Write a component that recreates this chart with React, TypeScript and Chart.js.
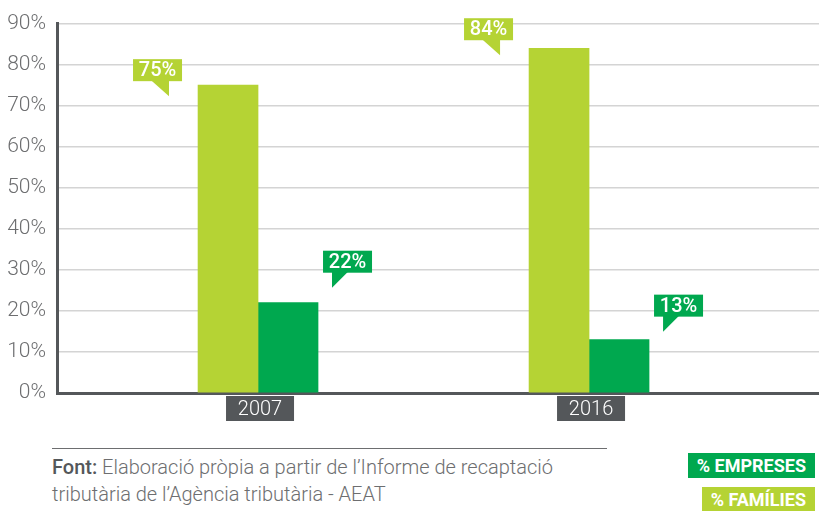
import React, { useEffect, useRef } from "react";
import { Chart, registerables } from "chart.js";

Chart.register(...registerables);

const categories = ["2007", "2016"];
const familiesValues = [75, 84];
const empresesValues = [22, 13];
const yTickValues = [0, 10, 20, 30, 40, 50, 60, 70, 80, 90];
const legendLabels = ["% EMPRESES", "% FAMÍLIES"];
const sourceBold = "Font:";
const sourceLine1 = " Elaboració pròpia a partir de l’Informe de recaptació";
const sourceLine2 = "tributària de l’Agència tributària - AEAT";

const LIGHT = "#b5d334";
const DARK = "#00a84f";
const AXIS = "#54575a";
const TEXT = "#6d6e70";
// vertical offset of each callout box bottom from its bar top (style only)
const lightCalloutDy = [-4, -8];
const darkCalloutDy = [-30, -23];

const calloutPlugin = {
  id: "callouts",
  afterDatasetsDraw(chart: any) {
    const ctx = chart.ctx;
    const xs = chart.scales.x;
    const area = chart.chartArea;
    ctx.save();
    categories.forEach((c, i) => {
      const cx = xs.getPixelForValue(i);
      const w = 68, h = 25;
      ctx.fillStyle = AXIS;
      ctx.fillRect(cx - w / 2 + 2, area.bottom + 3, w, h);
      ctx.fillStyle = "#ffffff";
      ctx.font = "300 20px Roboto";
      ctx.textAlign = "center";
      ctx.textBaseline = "middle";
      ctx.fillText(c, cx + 2, area.bottom + 3 + h / 2 + 1);
    });
    const drawBox = (x: number, bottom: number, color: string, text: string, tailLeft: boolean) => {
      const w = 49, h = 22;
      ctx.fillStyle = color;
      ctx.fillRect(x, bottom - h, w, h);
      ctx.beginPath();
      if (tailLeft) {
        ctx.moveTo(x + 9, bottom - 1);
        ctx.lineTo(x + 25, bottom - 1);
        ctx.lineTo(x + 9, bottom + 15);
      } else {
        ctx.moveTo(x + w - 31, bottom - 1);
        ctx.lineTo(x + w - 13, bottom - 1);
        ctx.lineTo(x + w - 13, bottom + 15);
      }
      ctx.closePath();
      ctx.fill();
      ctx.fillStyle = "#ffffff";
      ctx.font = "500 20px Roboto";
      ctx.textAlign = "center";
      ctx.textBaseline = "middle";
      ctx.fillText(text, x + w / 2, bottom - h / 2 + 1);
    };
    const m0 = chart.getDatasetMeta(0);
    m0.data.forEach((el: any, j: number) => {
      const left = el.x - el.width / 2;
      drawBox(left - 16 - 49, el.y + lightCalloutDy[j], LIGHT, familiesValues[j] + "%", false);
    });
    const m1 = chart.getDatasetMeta(1);
    m1.data.forEach((el: any, j: number) => {
      const right = el.x + el.width / 2;
      drawBox(right + 5, el.y + darkCalloutDy[j], DARK, empresesValues[j] + "%", true);
    });
    ctx.restore();
  },
};

export default function App() {
  const ref = useRef<HTMLCanvasElement | null>(null);
  useEffect(() => {
    if (!ref.current) return;
    const chart = new Chart(ref.current, {
      type: "bar",
      data: {
        datasets: [
          {
            label: "% FAMÍLIES",
            data: categories.map((_, i) => ({ x: i, y: familiesValues[i] })),
            backgroundColor: LIGHT,
            barThickness: 60,
          },
          {
            label: "% EMPRESES",
            data: categories.map((_, i) => ({ x: i, y: empresesValues[i] })),
            backgroundColor: DARK,
            barThickness: 60,
          },
        ],
      },
      options: {
        animation: false,
        responsive: false,
        devicePixelRatio: 1,
        layout: { padding: { top: 22, left: 0, right: 0, bottom: 0 } },
        plugins: { legend: { display: false }, tooltip: { enabled: false } },
        scales: {
          x: {
            type: "linear",
            offset: false,
            min: -0.6073,
            max: 1.6947,
            ticks: { display: false },
            grid: { display: false, drawTicks: false, offset: false },
            border: { display: true, color: AXIS, width: 3 },
            afterFit: (s: any) => {
              s.height = 37;
            },
          },
          y: {
            min: 0,
            max: 90,
            afterBuildTicks: (s: any) => {
              s.ticks = yTickValues.map((v) => ({ value: v }));
            },
            ticks: {
              callback: (v: any) => v + "%",
              font: { family: "Roboto", size: 21, weight: "300" },
              color: TEXT,
              padding: 11,
            },
            grid: { color: "#d4d4d4", lineWidth: 1.5, drawTicks: false },
            border: { display: true, color: AXIS, width: 3 },
            afterFit: (s: any) => {
              s.width = 57;
            },
          },
        },
      } as any,
      plugins: [calloutPlugin],
    });
    return () => chart.destroy();
  }, []);

  const legendBox = (text: string, color: string, top: number) => (
    <div
      style={{
        position: "absolute",
        right: 4,
        top,
        height: 25,
        lineHeight: "25px",
        background: color,
        color: "#fff",
        fontFamily: "Roboto",
        fontWeight: 700,
        fontSize: 18,
        padding: "0 9px",
        whiteSpace: "nowrap",
      }}
    >
      {text}
    </div>
  );

  return (
    <div style={{ position: "absolute", left: 0, top: 0, width: 819, height: 511, overflow: "hidden", background: "#fff" }}>
      <canvas ref={ref} width={819} height={430} style={{ position: "absolute", left: 0, top: 0, width: 819, height: 430 }} />
      <div style={{ position: "absolute", left: 52, top: 448, width: 555, height: 1, background: TEXT }} />
      <div
        style={{
          position: "absolute",
          left: 52,
          top: 454,
          fontFamily: "Roboto",
          fontWeight: 300,
          fontSize: 20,
          lineHeight: "27px",
          color: TEXT,
          whiteSpace: "nowrap",
        }}
      >
        <div>
          <span style={{ fontWeight: 500, color: AXIS }}>{sourceBold}</span>
          {sourceLine1}
        </div>
        <div>{sourceLine2}</div>
      </div>
      {legendBox(legendLabels[0], DARK, 453)}
      {legendBox(legendLabels[1], LIGHT, 487)}
    </div>
  );
}
